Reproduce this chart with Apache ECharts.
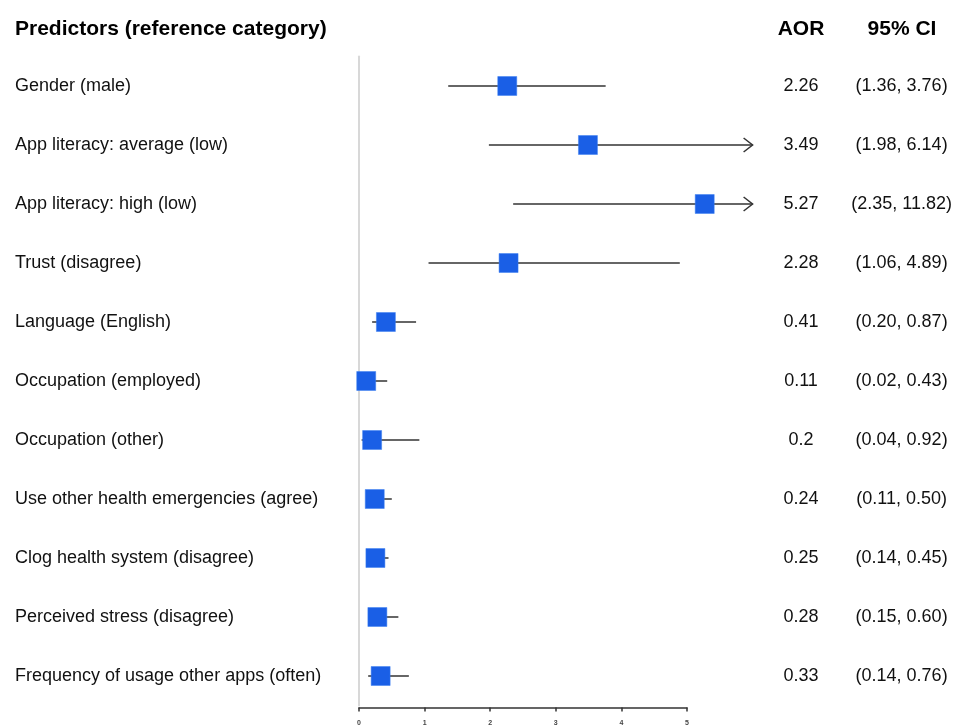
<!DOCTYPE html>
<html>
<head>
<meta charset="utf-8">
<script src="https://cdn.jsdelivr.net/npm/echarts@6/dist/echarts.min.js"></script>
<style>
  html, body { margin: 0; padding: 0; background: #fff; }
  #chart { width: 960px; height: 727px; }
</style>
</head>
<body>
<div id="chart"></div>
<script>
// predictors, odds ratios and CI bounds
var predictors = [
	'Gender (male)',
	'App literacy: average (low)',
	'App literacy: high (low)',
	'Trust (disagree)',
	'Language (English)',
	'Occupation (employed)',
	'Occupation (other)',
	'Use other health emergencies (agree)',
	'Clog health system (disagree)',
	'Perceived stress (disagree)',
	'Frequency of usage other apps (often)'
];
var aor = [2.26, 3.49, 5.27, 2.28, 0.41, 0.11, 0.2, 0.24, 0.25, 0.28, 0.33];
var ciLow = [1.36, 1.98, 2.35, 1.06, 0.20, 0.02, 0.04, 0.11, 0.14, 0.15, 0.14];
var ciHigh = [3.76, 6.14, 11.82, 4.89, 0.87, 0.43, 0.92, 0.50, 0.45, 0.60, 0.76];
var xTicks = [0, 1, 2, 3, 4, 5];

var FONT = 'Arial, "Liberation Sans", sans-serif';
var xMax = 6; // plotting range, arrows past this

var aorText = aor.map(function(v) { return String(v); });
var ciText = ciLow.map(function(lo, i) {
	return '(' + lo.toFixed(2) + ', ' + ciHigh[i].toFixed(2) + ')';
});

var myChart = echarts.init(document.getElementById('chart'));

var option = {
	backgroundColor: '#fff',
	animation: false,
	textStyle: { fontFamily: FONT },
	graphic: [
		{ type: 'text', x: 15, y: 29, style: { text: 'Predictors (reference category)', font: 'bold 21px ' + FONT, fill: '#000', textVerticalAlign: 'middle' } },
		{ type: 'text', x: 801, y: 29, style: { text: 'AOR', font: 'bold 21px ' + FONT, fill: '#000', textAlign: 'center', textVerticalAlign: 'middle' } },
		{ type: 'text', x: 902, y: 29, style: { text: '95% CI', font: 'bold 21px ' + FONT, fill: '#000', textAlign: 'center', textVerticalAlign: 'middle' } }
	],
	grid: [
		// axis only (0..5)
		{ left: 359, top: 56.5, width: 328, height: 651 },
		// data (0..6)
		{ left: 359, top: 56.5, width: 393.6, height: 649 }
	],
	xAxis: [{
		gridIndex: 0,
		type: 'value',
		min: xTicks[0],
		max: xTicks[xTicks.length - 1],
		interval: 1,
		axisLine: { show: true, lineStyle: { color: '#333', width: 1.5 } },
		axisTick: { show: true, length: 4, lineStyle: { color: '#333', width: 1.5 } },
		axisLabel: { fontSize: 7, color: '#444', margin: 12, fontWeight: 'bold' },
		splitLine: { show: false }
	}, {
		gridIndex: 1,
		type: 'value',
		min: 0,
		max: xMax,
		show: false
	}],
	yAxis: [{
		gridIndex: 0,
		type: 'value',
		show: false
	}, {
		gridIndex: 1,
		type: 'category',
		inverse: true,
		data: predictors,
		axisLine: { show: true, lineStyle: { color: '#d8d8d8', width: 2 } },
		axisTick: { show: false },
		axisLabel: { interval: 0, align: 'left', margin: 344, fontSize: 18, color: '#111' }
	}, {
		gridIndex: 1,
		type: 'category',
		inverse: true,
		position: 'right',
		data: aorText,
		axisLine: { show: false },
		axisTick: { show: false },
		axisLabel: { interval: 0, align: 'center', margin: 48.4, fontSize: 18, color: '#111' }
	}, {
		gridIndex: 1,
		type: 'category',
		inverse: true,
		position: 'right',
		data: ciText,
		axisLine: { show: false },
		axisTick: { show: false },
		axisLabel: { interval: 0, align: 'center', margin: 149, fontSize: 18, color: '#111' }
	}],
	series: [{
		// CI whiskers, arrow when past the range
		type: 'custom',
		xAxisIndex: 1,
		yAxisIndex: 1,
		data: ciLow.map(function(lo, i) { return [lo, ciHigh[i], i]; }),
		renderItem: function(params, api) {
			var lo = api.value(0), hi = api.value(1), i = api.value(2);
			var p1 = api.coord([lo, i]);
			var p2 = api.coord([Math.min(hi, xMax), i]);
			var style = { stroke: '#333', lineWidth: 1.5, fill: null };
			var children = [{
				type: 'line',
				shape: { x1: p1[0], y1: p1[1], x2: p2[0], y2: p2[1] },
				style: style
			}];
			if (hi > xMax) {
				children.push({
					type: 'polyline',
					shape: { points: [[p2[0] - 9, p2[1] - 7], [p2[0], p2[1]], [p2[0] - 9, p2[1] + 7]] },
					style: style
				});
			}
			return { type: 'group', children: children };
		},
		z: 2
	}, {
		type: 'scatter',
		xAxisIndex: 1,
		yAxisIndex: 1,
		symbol: 'rect',
		symbolSize: 19,
		itemStyle: { color: '#1a5fe6', borderColor: '#3b7ff0', borderWidth: 0.5, opacity: 1 },
		data: aor.map(function(v, i) { return [v, i]; }),
		z: 3
	}]
};
myChart.setOption(option);
</script>
</body>
</html>
